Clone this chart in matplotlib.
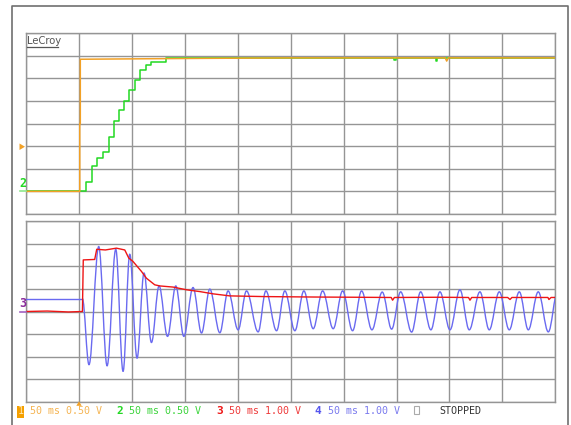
import numpy as np
import matplotlib
matplotlib.use("Agg")
import matplotlib.pyplot as plt
from matplotlib.path import Path
from matplotlib.patches import PathPatch, Rectangle, Polygon

W, H = 571, 425

# ---------------- data (time in ms, trigger at 0; volts) ----------------
# Channel 1 (orange), 0.50 V/div
ch1_t = [-50, 0.8, 0.8, 1.3, 1.3, 60, 120, 200, 300, 346, 347.4, 349, 450]
ch1_v = [0.0, 0.0, 1.50, 1.50, 2.92, 2.93, 2.94, 2.95, 2.95, 2.95, 2.88, 2.95, 2.95]

# Channel 2 (green), 0.50 V/div, staircase
ch2_t = [-50, 7.1, 12.4, 17.5, 22.8, 28.2, 32.9, 37.6, 42.6, 47.4, 53.0, 58.1,
         63.1, 68.5, 82.7, 298, 299.5, 337, 338.5, 450]
ch2_v = [0.0, 0.21, 0.56, 0.73, 0.86, 1.21, 1.55, 1.80, 1.99, 2.24, 2.47, 2.68,
         2.79, 2.86, 2.94, 2.90, 2.94, 2.89, 2.94, 2.94]

# Channel 3 (red), 1.00 V/div
ch3_t = [-50, -30, -10, 3.3, 4.1, 14.9, 16.8, 25, 35.4, 43.3, 47.1, 51.1, 59.1,
         63.8, 71.6, 76.4, 88.9, 101.6, 114.2, 126.8, 142.5, 174, 221.3, 260,
         295, 296.3, 298, 340, 368, 369.4, 371, 405, 407.2, 409, 443, 444, 446, 450]
ch3_v = [0.0, 0.02, -0.02, 0.0, 2.28, 2.30, 2.75, 2.72, 2.80, 2.72, 2.36, 2.21, 1.77,
         1.47, 1.18, 1.13, 1.08, 0.96, 0.88, 0.78, 0.69, 0.66, 0.64, 0.63,
         0.62, 0.50, 0.62, 0.63, 0.62, 0.50, 0.62, 0.62, 0.53, 0.62, 0.62, 0.53, 0.62, 0.62]

# Channel 4 (blue), 1.00 V/div: pre-trigger level, then oscillation extrema
ch4_pre_t = [-50, 3.3]
ch4_pre_v = [0.56, 0.56]
ch4_ext_t = [3.3, 9.5, 18.7, 26.6, 34.8, 41.7, 48.0, 54.9, 61.5, 68.5, 75.7, 83.7,
             91.5, 99.1, 107.8, 115.8, 123.6, 133.1, 140.9, 150.4, 158.3, 169.3,
             176.6, 186.7, 194.5, 204.0, 212.5, 221.3, 230.2, 240.2, 249.1, 258.5,
             267.0, 276.8, 286.5, 295.4, 303.9, 314.3, 322.8, 332.5, 341.0, 350.5,
             359.9, 368.7, 378.8, 387.6, 397.1, 406.5, 416.0, 424.5, 433.9, 443.4, 452.1]
ch4_ext_v = [0.56, -2.35, 2.87, -2.40, 2.75, -2.65, 2.53, -2.06, 1.70, -1.37, 1.13, -1.10,
             1.13, -1.10, 1.06, -0.95, 0.99, -0.94, 0.91, -0.81, 0.91, -0.90,
             0.91, -0.85, 0.91, -0.85, 0.91, -0.76, 0.91, -0.76, 0.91, -0.85,
             0.91, -0.81, 0.86, -0.78, 0.87, -0.91, 0.87, -0.81, 0.87, -0.81,
             0.96, -0.81, 0.87, -0.81, 0.87, -0.81, 0.87, -0.81, 0.87, -0.90, 0.87]

labels = ["50 ms 0.50 V", "50 ms 0.50 V", "50 ms 1.00 V", "50 ms 1.00 V"]

# ---------------- styles ----------------
C_OR = "#f2a126"
C_GR = "#22d822"
C_RD = "#ee1515"
C_BL = "#6a6af0"
GRID = "#959595"

fig = plt.figure(figsize=(W / 100, H / 100), dpi=100)
fig.patch.set_facecolor("white")


def rect(x0, y0, x1, y1):
    return [x0 / W, 1 - y1 / H, (x1 - x0) / W, (y1 - y0) / H]


def setup(ax, ylim):
    ax.set_xlim(-50, 450)
    ax.set_ylim(*ylim)
    ax.set_xticks(np.arange(-50, 451, 50))
    ax.set_yticks(np.linspace(ylim[0], ylim[1], 9))
    ax.tick_params(length=0, labelbottom=False, labelleft=False)
    ax.grid(True, color=GRID, lw=1.0)
    for s in ax.spines.values():
        s.set_color(GRID)
        s.set_linewidth(1.0)
    ax.set_facecolor("white")


ax1 = fig.add_axes(rect(26, 33, 555.3, 214))
setup(ax1, (-0.5, 3.5))
ax2 = fig.add_axes(rect(26, 221, 555.3, 402))
setup(ax2, (-4, 4))

ax1.step(ch2_t, ch2_v, where="post", color=C_GR, lw=1.1, zorder=3)
ax1.plot(ch1_t, ch1_v, color=C_OR, lw=1.1, zorder=4)

# blue: flat pre-trigger part + smooth curve through extrema
ax2.plot(ch4_pre_t, ch4_pre_v, color=C_BL, lw=1.0, zorder=3)
verts = [(ch4_ext_t[0], ch4_ext_v[0])]
codes = [Path.MOVETO]
a = 0.363
for i in range(1, len(ch4_ext_t)):
    t0, v0 = ch4_ext_t[i - 1], ch4_ext_v[i - 1]
    t1, v1 = ch4_ext_t[i], ch4_ext_v[i]
    dt = t1 - t0
    verts += [(t0 + a * dt, v0), (t1 - a * dt, v1), (t1, v1)]
    codes += [Path.CURVE4] * 3
ax2.add_patch(PathPatch(Path(verts, codes), facecolor="none", edgecolor=C_BL,
                        lw=1.0, zorder=3, clip_on=True))
ax2.plot(ch3_t, ch3_v, color=C_RD, lw=1.0, zorder=4)

# ---------------- overlay decorations in pixel space ----------------
ov = fig.add_axes([0, 0, 1, 1], zorder=10)
ov.set_xlim(0, W)
ov.set_ylim(H, 0)
ov.axis("off")
ov.patch.set_alpha(0)

ov.plot([12, 12, 568, 568], [425, 5.5, 5.5, 425], color="#707070", lw=1.2)

ov.text(27, 41, "LeCroy", fontsize=7.2, color="#555555", va="center", ha="left",
        family="DejaVu Sans")
ov.plot([27, 58], [46.5, 46.5], color="#555555", lw=0.9)

# left channel markers
ov.add_patch(Polygon([[19.5, 143.5], [19.5, 150], [25, 146.7]], closed=True,
                     color=C_OR, lw=0))
ov.text(23, 183, "2", fontsize=8.5, color=C_GR, weight="bold", va="center",
        ha="center", family="DejaVu Sans Mono")
ov.plot([19.5, 26], [191.3, 191.3], color="#8ee88e", lw=1.2)
ov.text(23, 303.5, "3", fontsize=8.5, color="#8a2a9a", weight="bold", va="center",
        ha="center", family="DejaVu Sans Mono")
ov.plot([19.5, 26], [311.7, 311.7], color="#a060c0", lw=1.2)

# trigger position marker
ov.add_patch(Polygon([[76.3, 405.8], [81.7, 405.8], [79, 401.3]], closed=True,
                     color=C_OR, lw=0))

# bottom status line
ty = 411.5
ov.add_patch(Rectangle((17, 406), 6.5, 12, color="#f5a000", lw=0))
ov.text(20.3, ty, "1", fontsize=7.2, color="#ffe6b0", va="center", ha="center",
        family="DejaVu Sans Mono")
ov.text(30, ty, labels[0], fontsize=7.2, color="#f5b452", va="center", ha="left",
        family="DejaVu Sans Mono")
ov.text(120, ty, "2", fontsize=8, color=C_GR, weight="bold", va="center",
        ha="center", family="DejaVu Sans Mono")
ov.text(129, ty, labels[1], fontsize=7.2, color="#3cd43c", va="center", ha="left",
        family="DejaVu Sans Mono")
ov.text(220, ty, "3", fontsize=8, color=C_RD, weight="bold", va="center",
        ha="center", family="DejaVu Sans Mono")
ov.text(229, ty, labels[2], fontsize=7.2, color="#ee3a3a", va="center", ha="left",
        family="DejaVu Sans Mono")
ov.text(318, ty, "4", fontsize=8, color="#5555ee", weight="bold", va="center",
        ha="center", family="DejaVu Sans Mono")
ov.text(328, ty, labels[3], fontsize=7.2, color="#7a7aee", va="center", ha="left",
        family="DejaVu Sans Mono")
ov.add_patch(Rectangle((414, 406), 5.3, 8.3, facecolor="none", edgecolor="#aaaaaa",
                       lw=0.8))
ov.text(439, ty, "STOPPED", fontsize=7.2, color="#333333", va="center", ha="left",
        family="DejaVu Sans Mono")

fig.savefig("out.png", dpi=100, facecolor="white")
